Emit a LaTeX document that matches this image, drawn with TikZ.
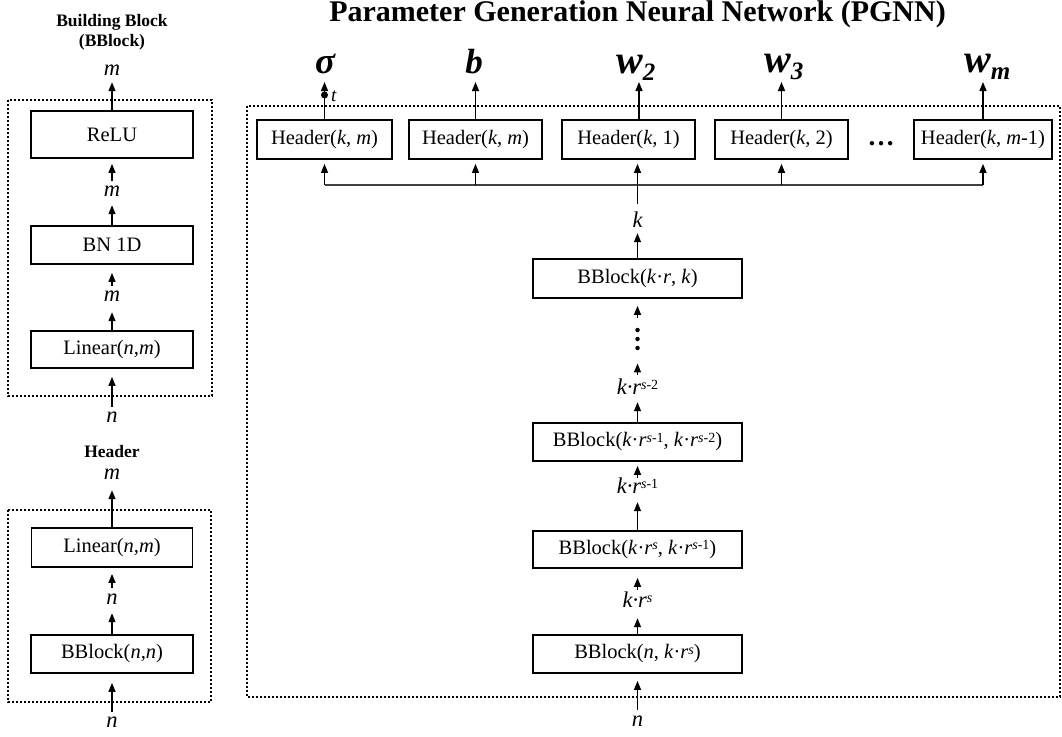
\documentclass[tikz,border=0pt]{standalone}
\usepackage{fontspec}
\setmainfont{Liberation Serif}
\usetikzlibrary{arrows.meta}
\newcommand\fs[1]{\fontsize{#1}{#1}\selectfont}
\newcommand\kr{\textit{k}·\textit{r}}
\newcommand\sps[1]{\raisebox{4.5pt}{\fs{14}#1}}
\begin{document}
\begin{tikzpicture}[x=1pt,y=-1pt,
  box/.style={draw, line width=1.8pt, inner sep=0pt, minimum height=38pt, font=\fs{20.5}},
  arr/.style={line width=1.3pt, -{Triangle[length=9pt,width=7pt]}},
  lab/.style={inner sep=0pt, text height=8pt, text depth=0pt, anchor=base, font=\fs{22.5}\itshape},
  big/.style={inner sep=0pt, anchor=base, font=\fs{35}\bfseries\itshape},
  bigw/.style={inner sep=0pt, anchor=base west, font=\fs{40}\bfseries\itshape},
  dotbox/.style={draw, line width=2pt, dash pattern=on 2pt off 2pt},
  vdot/.style={circle, fill, inner sep=0pt, minimum size=4.5pt},
]
\useasboundingbox (0,0) rectangle (1062,736);

% ---------- Building block ----------
\node[font=\fontsize{17.5}{20}\selectfont\bfseries, align=center] (bbt) at (112,32) {Building Block\\(BBlock)};
\draw[dotbox] (8,100) rectangle (212,396);
\node[lab] (bm0) at (112,75) {m};
\node[box, minimum width=162pt, minimum height=47pt] (relu) at (112,134.5) {ReLU};
\node[lab] (bm1) at (112,196.5) {m};
\node[box, minimum width=162pt] (bn) at (112,245) {BN 1D};
\node[lab] (bm2) at (112,301.5) {m};
\node[box, minimum width=162pt, minimum height=37pt] (lin) at (112,349.5) {Linear(\textit{n,m})};
\node[lab] (bn0) at (112,422.5) {n};

\draw[arr, shorten >=7pt] (relu.north) -- (bm0.south);
\draw[arr, shorten <=7.5pt, shorten >=5pt] (bm1.north) -- (relu.south);
\draw[arr, shorten >=8.5pt] (bn.north) -- (bm1.south);
\draw[arr, shorten <=7.5pt, shorten >=8pt] (bm2.north) -- (bn.south);
\draw[arr, shorten >=10.5pt] (lin.north) -- (bm2.south);
\draw[arr, shorten <=7.5pt, shorten >=8pt] (bn0.north) -- (lin.south);

% ---------- Header ----------
\node[font=\fs{17.5}\bfseries] (hdt) at (112,452) {Header};
\draw[dotbox] (8,510) rectangle (211,702);
\node[lab] (hm0) at (112,479.5) {m};
\node[box, minimum width=161pt, minimum height=39pt] (hlin) at (112,547.5) {Linear(\textit{n,m})};
\node[lab] (hn1) at (112,604.5) {n};
\node[box, minimum width=162pt] (hbb) at (112,654) {BBlock(\textit{n,n})};
\node[lab] (hn0) at (112,727.5) {n};

\draw[arr, shorten >=10.5pt] (hlin.north) -- (hm0.south);
\draw[arr, shorten <=8.5pt, shorten >=6pt] (hn1.north) -- (hlin.south);
\draw[arr, shorten >=8.5pt] (hbb.north) -- (hn1.south);
\draw[arr, shorten <=7.5pt, shorten >=9pt] (hn0.north) -- (hbb.south);

% ---------- PGNN ----------
\node[inner sep=0pt, anchor=base, font=\fs{30}\bfseries] (title) at (637.5,21.5) {Parameter Generation Neural Network (PGNN)};
\draw[dotbox] (247,106) rectangle (1060,697);

\node[box, minimum width=135pt, minimum height=39pt] (h1) at (324.5,139.5) {Header(\textit{k}, \textit{m})};
\node[box, minimum width=133pt, minimum height=39pt] (h2) at (475.5,139.5) {Header(\textit{k}, \textit{m})};
\node[box, minimum width=133pt, minimum height=39pt] (h3) at (628.5,139.5) {Header(\textit{k}, 1)};
\node[box, minimum width=133pt, minimum height=39pt] (h4) at (781.5,139.5) {Header(\textit{k}, 2)};
\node[box, minimum width=138pt, minimum height=39pt] (h5) at (983,139.5) {Header(\textit{k}, \textit{m}-1)};
\node[inner sep=0pt, anchor=base, font=\fs{27}\bfseries] (hdots) at (881,145) {…};

% outputs
\coordinate (otip) at (0,82);
\node[big, font=\fs{37}\bfseries\itshape] (sig) at (325,73) {σ};
\node[big] (ob) at (474,73) {b};
\node[bigw] (w2) at (616,73) {w\raisebox{-7pt}{\fs{25}2}};
\node[bigw] (w3) at (764,72) {w\raisebox{-7pt}{\fs{25}3}};
\node[bigw] (wm) at (964,72) {w\raisebox{-7pt}{\fs{25}m}};

\draw[arr] (h1.north) -- (h1.north |- otip);
\node[vdot, minimum size=7pt] (tdot) at (324.5,95) {};
\node[inner sep=0pt, anchor=west, font=\fs{19}\itshape] (tl) at (331,96) {t};
\draw[arr] (h2.north) -- (h2.north |- otip);
\draw[arr] ([xshift=10.5pt]h3.north) -- ([xshift=10.5pt]h3.north |- otip);
\draw[arr] (h4.north) -- (h4.north |- otip);
\draw[arr] (h5.north) -- (h5.north |- otip);

% distribution bus
\coordinate (bus) at (0,185);
\draw[line width=1.3pt, black!75] (h1.south |- bus) -- (h5.south |- bus);
\draw[arr, shorten >=4pt] (h1.south |- bus) -- (h1.south);
\draw[arr, shorten >=4pt] (h2.south |- bus) -- (h2.south);
\draw[arr, shorten >=4pt] (h4.south |- bus) -- (h4.south);
\draw[arr, shorten >=4pt] (h5.south |- bus) -- (h5.south);

% trunk
\node[lab] (kk) at (637.5,227) {k};
\node[box, minimum width=209pt, minimum height=39pt] (bb1) at (637.5,278.5) {BBlock(\kr, \textit{k})};
\node[vdot] (v1) at (637.5,330) {};
\node[vdot] (v2) at (637.5,339) {};
\node[vdot] (v3) at (637.5,348) {};
\node[lab] (l2) at (637.5,394) {k·r\sps{s{\upshape -2}}};
\node[box, minimum width=209pt, minimum height=38pt] (bb2) at (637.5,442) {BBlock(\kr\sps{\textit{s}-1}, \kr\sps{\textit{s}-2})};
\node[lab] (l1) at (637.5,493) {k·r\sps{s{\upshape -1}}};
\node[box, minimum width=209pt, minimum height=37pt] (bb3) at (637.5,549.5) {BBlock(\kr\sps{\textit{s}}, \kr\sps{\textit{s}-1})};
\node[lab] (l0) at (637.5,607) {k·r\sps{s}};
\node[box, minimum width=209pt, minimum height=38pt] (bb4) at (637.5,654) {BBlock(\textit{n}, \kr\sps{\textit{s}})};
\node[lab] (rn) at (637.5,726) {n};

\draw[arr, shorten <=15pt, shorten >=4pt] (kk.north) -- (kk.north |- h3.south);
\draw[arr, shorten >=6pt] (bb1.north) -- (kk.south);
\draw[arr, shorten <=10pt, shorten >=7pt] (v1) -- (bb1.south);
\draw[arr, shorten <=11pt, shorten >=13pt] (l2.north) -- (v3);
\draw[arr, shorten >=8pt] (bb2.north) -- (l2.south);
\draw[arr, shorten <=7pt, shorten >=4pt] (l1.north) -- (bb2.south);
\draw[arr, shorten >=9pt] (bb3.north) -- (l1.south);
\draw[arr, shorten <=9pt, shorten >=9pt] (l0.north) -- (bb3.south);
\draw[arr, shorten >=11pt] (bb4.north) -- (l0.south);
\draw[arr, shorten <=8pt, shorten >=7pt] (rn.north) -- (bb4.south);
\end{tikzpicture}
\end{document}
